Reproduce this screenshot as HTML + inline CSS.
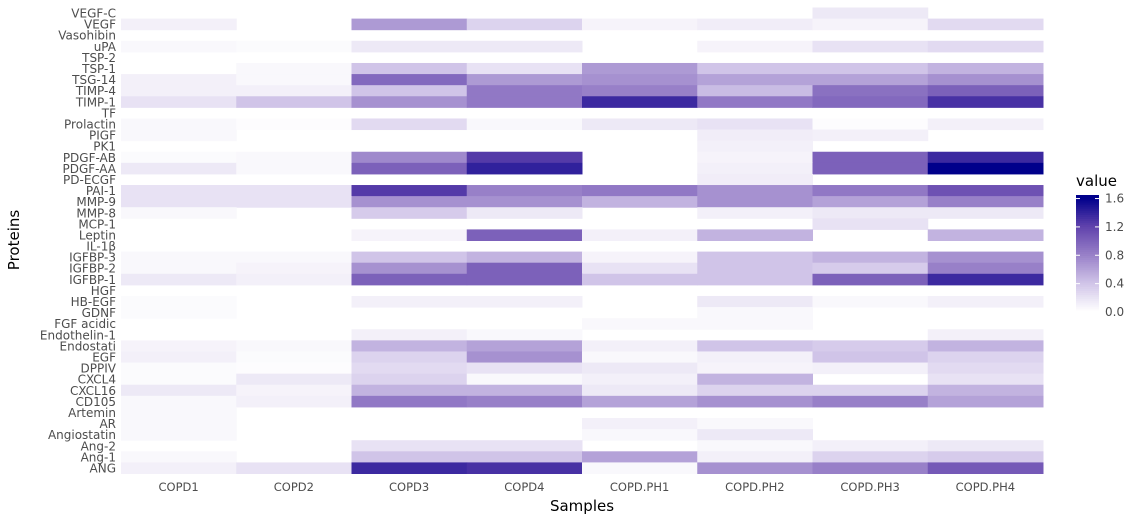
<!DOCTYPE html>
<html><head><meta charset="utf-8">
<style>
body{margin:0;background:#fff;}
svg{display:block;font-family:"DejaVu Sans","Liberation Sans",sans-serif;}
</style></head>
<body>
<svg id="chart" width="1141" height="520"></svg>
<script>
const samples=["COPD1","COPD2","COPD3","COPD4","COPD.PH1","COPD.PH2","COPD.PH3","COPD.PH4"];
const proteins=["VEGF-C","VEGF","Vasohibin","uPA","TSP-2","TSP-1","TSG-14","TIMP-4","TIMP-1","TF","Prolactin","PIGF","PK1","PDGF-AB","PDGF-AA","PD-ECGF","PAI-1","MMP-9","MMP-8","MCP-1","Leptin","IL-1β","IGFBP-3","IGFBP-2","IGFBP-1","HGF","HB-EGF","GDNF","FGF acidic","Endothelin-1","Endostati","EGF","DPPIV","CXCL4","CXCL16","CD105","Artemin","AR","Angiostatin","Ang-2","Ang-1","ANG"];
const values=[
[0,0,0,0,0,0,0.15,0],
[0.1,0,0.65,0.3,0.08,0.12,0.08,0.25],
[0,0,0,0,0,0,0,0],
[0.05,0.03,0.15,0.15,0,0.08,0.2,0.25],
[0,0,0,0,0,0,0,0],
[0,0.05,0.4,0.2,0.65,0.4,0.4,0.5],
[0.1,0.05,0.95,0.65,0.7,0.6,0.6,0.7],
[0.1,0.1,0.4,0.85,0.8,0.45,0.9,1.0],
[0.2,0.4,0.7,0.85,1.35,0.85,0.95,1.3],
[0,0,0,0,0,0,0,0],
[0.05,0.02,0.25,0.05,0.15,0.2,0.02,0.1],
[0.05,0,0,0,0,0.12,0.1,0],
[0,0,0,0,0,0.1,0,0],
[0.03,0.05,0.75,1.25,0,0.08,1.0,1.35],
[0.15,0.05,1.0,1.4,0,0.1,1.0,1.62],
[0,0,0,0,0,0.12,0,0],
[0.2,0.2,1.25,0.8,0.85,0.7,0.85,1.1],
[0.2,0.2,0.7,0.7,0.5,0.7,0.6,0.8],
[0.05,0,0.35,0.15,0,0.1,0.15,0.15],
[0,0,0,0,0,0,0.2,0],
[0,0,0.08,1.0,0.1,0.5,0,0.5],
[0,0,0,0,0,0,0,0],
[0.05,0.05,0.4,0.5,0.08,0.4,0.5,0.7],
[0.05,0.08,0.7,1.0,0.2,0.4,0.35,0.8],
[0.15,0.1,1.0,1.0,0.4,0.4,1.0,1.35],
[0,0,0,0,0,0,0,0],
[0.03,0,0.1,0.1,0,0.15,0.05,0.1],
[0.03,0,0,0,0,0.05,0,0],
[0,0,0,0,0.05,0.05,0,0],
[0,0,0.1,0.05,0,0,0,0.1],
[0.08,0.05,0.5,0.6,0.1,0.4,0.35,0.5],
[0.1,0.03,0.3,0.7,0.05,0.1,0.4,0.3],
[0.03,0.02,0.25,0.2,0.15,0.08,0.1,0.25],
[0.03,0.15,0.3,0.05,0.1,0.5,0,0.2],
[0.15,0.08,0.5,0.5,0.15,0.3,0.3,0.5],
[0.05,0.1,0.85,0.8,0.6,0.7,0.8,0.6],
[0.05,0,0,0,0,0,0,0],
[0.05,0,0,0,0.1,0.05,0,0],
[0.05,0,0,0,0.05,0.15,0,0],
[0,0,0.2,0.2,0,0.05,0.1,0.15],
[0.05,0,0.4,0.4,0.6,0.1,0.3,0.35],
[0.1,0.2,1.35,1.3,0.05,0.7,0.8,1.05]
];
const legendTicks=[0,0.4,0.8,1.2,1.6];

const NS="http://www.w3.org/2000/svg";
const svg=document.getElementById("chart");
const X0=121,X1=1043,Y0=7.5,Y1=473.5;
const cw=(X1-X0)/samples.length, rh=(Y1-Y0)/proteins.length;
const xPos=i=>X0+i*cw, yPos=j=>Y0+j*rh;
const stops=[[0,[255,255,255]],[0.4,[208,196,232]],[0.8,[152,128,200]],[1.2,[96,66,172]],[1.6,[0,0,139]]];
function color(v){
  if(v<=0)return null;
  if(v>=1.6)return "rgb(0,0,139)";
  for(let k=0;k<stops.length-1;k++){
    const [a,ca]=stops[k],[b,cb]=stops[k+1];
    if(v<=b){const t=(v-a)/(b-a);return "rgb("+ca.map((c,i)=>Math.round(c+(cb[i]-c)*t)).join(",")+")";}
  }
}
function el(tag,attrs,text){const e=document.createElementNS(NS,tag);for(const k in attrs)e.setAttribute(k,attrs[k]);if(text!==undefined)e.textContent=text;svg.appendChild(e);return e;}

values.forEach((row,j)=>row.forEach((v,i)=>{
  const c=color(v); if(!c)return;
  const r=el("rect",{x:xPos(i),y:yPos(j),width:cw+0.5,height:rh+0.5,fill:c});
  
  
}));
proteins.forEach((p,j)=>{
  const t=el("text",{x:116,y:yPos(j)+rh/2+4.5,"text-anchor":"end","font-size":"12",fill:"#4d4d4d"},p);
  
  
});
samples.forEach((s,i)=>{
  const t=el("text",{x:xPos(i)+cw/2,y:491,"text-anchor":"middle","font-size":"11.5",fill:"#4d4d4d"},s);
  
  
});
const xt=el("text",{x:582,y:511,"text-anchor":"middle","font-size":"15",fill:"#000"},"Samples");


const yt=el("text",{x:19,y:240,"text-anchor":"middle","font-size":"15",fill:"#000",transform:"rotate(-90 19 240)"},"Proteins");


// legend
const LX=1076,LW=23,LTop=195,LBot=312,vmax=1.65,lsc=(LBot-LTop)/vmax;
const lt=el("text",{x:1076,y:186,"font-size":"15",fill:"#000"},"value");


for(let k=0;k<60;k++){
  const v0=vmax*k/60, v1=vmax*(k+1)/60;
  const r=el("rect",{x:LX,y:LBot-v1*lsc,width:LW,height:(v1-v0)*lsc+0.5,fill:color(Math.max(v0,0.001))});
  
  
}
legendTicks.forEach(v=>{
  const y=LBot-v*lsc;
  const l1=el("line",{x1:LX,x2:LX+4,y1:y,y2:y,stroke:"#fff","stroke-width":1});
  
  
  const l2=el("line",{x1:LX+LW-4,x2:LX+LW,y1:y,y2:y,stroke:"#fff","stroke-width":1});
  
  
  const t=el("text",{x:1105,y:y+4,"font-size":"12",fill:"#4d4d4d"},v.toFixed(1));
  
  
});
</script>
</body></html>
